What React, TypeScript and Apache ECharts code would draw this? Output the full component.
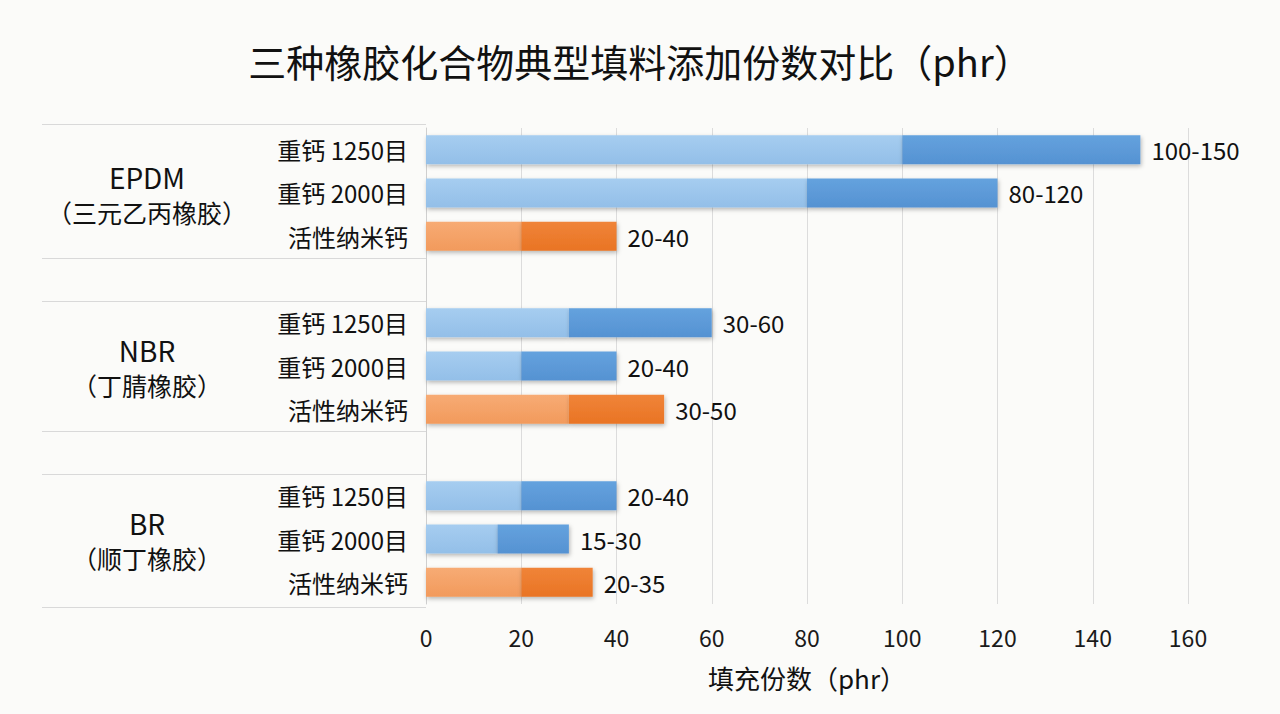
import React, { useEffect, useRef } from "react";
import * as echarts from "echarts";

const titleText = "三种橡胶化合物典型填料添加份数对比（phr）";
const groups = ["EPDM", "NBR", "BR"];
const groupSubs = ["（三元乙丙橡胶）", "（丁腈橡胶）", "（顺丁橡胶）"];
const fillers = ["重钙 1250目", "重钙 2000目", "活性纳米钙"];
const minVals = [
  [100, 80, 20],
  [30, 20, 30],
  [20, 15, 20],
];
const maxVals = [
  [150, 120, 40],
  [60, 40, 50],
  [40, 30, 35],
];
const xTicks = [0, 20, 40, 60, 80, 100, 120, 140, 160];
const xAxisName = "填充份数（phr）";

const W = 1280;
const H = 714;
const GRID_LEFT = 426;
const GRID_RIGHT = 92;
const GRID_TOP = 128;
const GRID_BOTTOM = 110;

const FONT = "'Noto Sans CJK SC', 'Noto Sans', sans-serif";

function grad(top: string, bottom: string) {
  return new echarts.graphic.LinearGradient(0, 0, 0, 1, [
    { offset: 0, color: top },
    { offset: 1, color: bottom },
  ]);
}

export default function App() {
  const ref = useRef<HTMLDivElement>(null);

  useEffect(() => {
    document.body.style.margin = "0";
    if (!ref.current) return;
    const chart = echarts.init(ref.current, null, { renderer: "svg" });

    const cats: string[] = [];
    const baseData: any[] = [];
    const rangeData: any[] = [];
    groups.forEach((g, gi) => {
      fillers.forEach((f, fi) => {
        cats.push(g + "|" + f);
        const isNano = fi === 2;
        baseData.push({
          value: minVals[gi][fi],
          itemStyle: {
            color: isNano ? grad("#f7ab74", "#f29a5c") : grad("#a6cdf0", "#93bfe8"),
          },
        });
        rangeData.push({
          value: maxVals[gi][fi] - minVals[gi][fi],
          labelText: minVals[gi][fi] + "-" + maxVals[gi][fi],
          itemStyle: {
            color: isNano ? grad("#f08438", "#e97424") : grad("#64a2de", "#5592d2"),
          },
        });
      });
      if (gi < groups.length - 1) {
        cats.push("gap" + gi);
        baseData.push("-");
        rangeData.push("-");
      }
    });

    const n = cats.length;
    const gridH = H - GRID_TOP - GRID_BOTTOM;
    const pitch = gridH / n;

    const graphics: any[] = [];
    let row = 0;
    groups.forEach((g, gi) => {
      const top = GRID_TOP + row * pitch - (gi === 0 ? 4 : 0);
      const bottom = GRID_TOP + (row + 3) * pitch + (gi === groups.length - 1 ? 3 : 0);
      const center = GRID_TOP + (row + 1.5) * pitch;
      [top, bottom].forEach((y) => {
        graphics.push({
          type: "line",
          shape: { x1: 42, y1: Math.round(y) + 0.5, x2: GRID_LEFT, y2: Math.round(y) + 0.5 },
          style: { stroke: "#d9d9d9", lineWidth: 1 },
          silent: true,
        });
      });
      graphics.push({
        type: "text",
        x: 147,
        y: center - 16,
        style: {
          text: g,
          fontSize: 28,
          fontFamily: FONT,
          fill: "#111",
          textAlign: "center",
          textVerticalAlign: "middle",
        },
      });
      graphics.push({
        type: "text",
        x: 147,
        y: center + 19,
        style: {
          text: groupSubs[gi],
          fontSize: 25,
          fontFamily: FONT,
          fill: "#111",
          textAlign: "center",
          textVerticalAlign: "middle",
        },
      });
      row += 4;
    });

    const shadow = {
      shadowBlur: 4,
      shadowColor: "rgba(0,0,0,0.28)",
      shadowOffsetY: 2,
      shadowOffsetX: 1,
    };

    chart.setOption({
      animation: false,
      backgroundColor: "#fbfbf9",
      textStyle: { fontFamily: FONT },
      title: {
        text: titleText,
        left: "center",
        top: 36,
        textStyle: { fontSize: 38, fontWeight: "normal", color: "#111", fontFamily: FONT },
      },
      grid: { left: GRID_LEFT, right: GRID_RIGHT, top: GRID_TOP, bottom: GRID_BOTTOM },
      xAxis: {
        type: "value",
        min: xTicks[0],
        max: xTicks[xTicks.length - 1],
        interval: xTicks[1] - xTicks[0],
        axisLine: { show: false },
        axisTick: { show: false },
        axisLabel: { fontSize: 23, color: "#1a1a1a", margin: 21, fontFamily: FONT },
        splitLine: { lineStyle: { color: "#dcdcdc", width: 1 } },
        name: xAxisName,
        nameLocation: "middle",
        nameGap: 60,
        nameTextStyle: { fontSize: 26, color: "#111", fontFamily: FONT },
      },
      yAxis: {
        type: "category",
        data: cats,
        inverse: true,
        axisLine: { show: true, lineStyle: { color: "#cfcfcf" } },
        axisTick: { show: false },
        axisLabel: {
          fontSize: 24,
          color: "#111",
          margin: 18,
          fontFamily: FONT,
          formatter: (v: string) => (v.startsWith("gap") ? "" : v.split("|")[1]),
        },
      },
      series: [
        {
          type: "bar",
          stack: "s",
          barWidth: 29,
          data: baseData,
          itemStyle: { ...shadow },
        },
        {
          type: "bar",
          stack: "s",
          barWidth: 29,
          data: rangeData,
          itemStyle: { ...shadow },
          label: {
            show: true,
            position: "right",
            distance: 11,
            fontSize: 24,
            color: "#111",
            fontFamily: FONT,
            formatter: (p: any) => (p.data && p.data.labelText) || "",
          },
        },
      ],
      graphic: graphics,
    });

    return () => chart.dispose();
  }, []);

  return <div ref={ref} style={{ width: W, height: H }} />;
}
